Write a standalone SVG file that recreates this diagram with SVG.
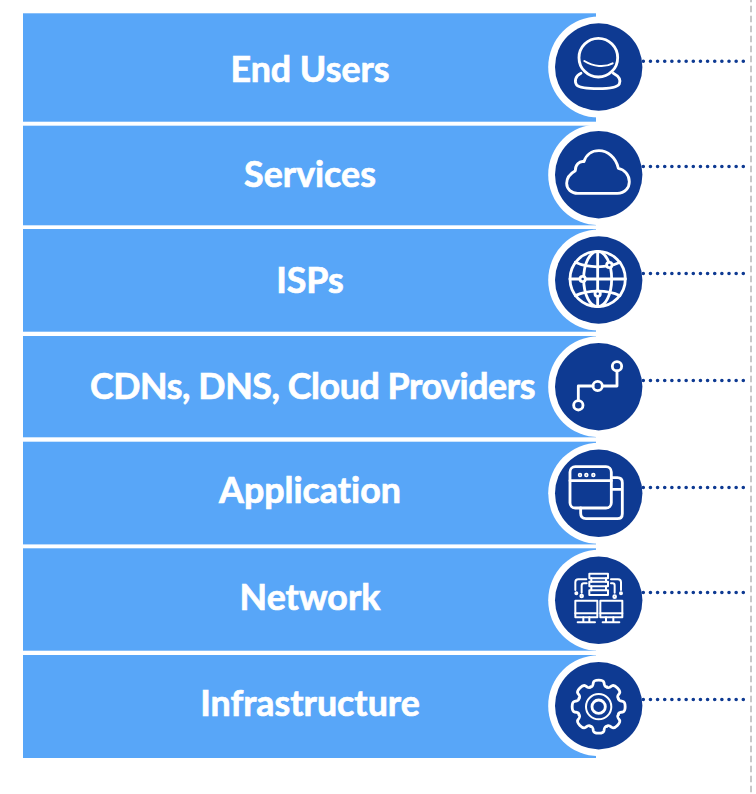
<svg xmlns="http://www.w3.org/2000/svg" width="756" height="794" viewBox="0 0 756 794">
<style>
.bar{fill:#58a6f8}
.halo{fill:#fff}
.disc{fill:#0e3a92}
.label{font-family:"Lato","Liberation Sans",sans-serif;font-weight:700;font-size:35.800px;fill:#fff;stroke:#fff;stroke-width:.7px;text-anchor:middle;font-variant-ligatures:none}
.tight{letter-spacing:-.42px}
.ic{fill:none;stroke:#fff;stroke-width:8.500;stroke-linecap:round;stroke-linejoin:round}
.th{stroke-width:6}
.nd{fill:#0e3a92}
.dot{fill:none;stroke:#0e3a92;stroke-width:3.600;stroke-linecap:round;stroke-dasharray:0 7.143}
.guide{fill:none;stroke:#c8c8c8;stroke-width:2;stroke-dasharray:6.500 3.500;stroke-dashoffset:4.300}
</style>
<defs>
<path id="tooth" d="M-24.5 -59C-18 -59 -17 -63 -16 -72C-14 -82 14 -82 16 -72C17 -63 18 -59 24.5 -59"/>
</defs>
<rect width="756" height="794" fill="#fff"/>
<g id="node-end-users">
<rect class="bar" x="23" y="13.300" width="573" height="108.400"/>
<circle class="halo" cx="598.700" cy="67" r="50.500"/>
<circle class="disc" cx="598.700" cy="67" r="43.700"/>
<g class="ic" transform="translate(530 0) scale(.3333)">
<circle cx="205" cy="173" r="58"/>
<path class="th" d="M163 183C190 200 225 203 248 190"/>
<path d="M153 220C135 228 133 245 140 255C150 265 190 266 205 266C225 266 260 265 268 252C273 240 265 228 250 220"/>
</g>
<text class="label" x="310" y="81.500">End Users</text>
</g>
<g id="node-services">
<rect class="bar" x="23" y="125.700" width="573" height="99.600"/>
<circle class="halo" cx="598.700" cy="174.700" r="50.500"/>
<circle class="disc" cx="598.700" cy="174.700" r="43.700"/>
<g class="ic" transform="translate(530 0) scale(.3333)">
<path d="M143 580H262C285 580 298 563 298 545C298 525 283 508 265 505C258 472 232 452 207 452C185 452 168 465 162 485C148 482 135 495 136 512C118 522 110 535 110 550C110 568 125 580 143 580Z"/>
</g>
<text class="label" x="310" y="187">Services</text>
</g>
<g id="node-isps">
<rect class="bar" x="23" y="229" width="573" height="102.700"/>
<circle class="halo" cx="598.700" cy="280" r="50.500"/>
<circle class="disc" cx="598.700" cy="280" r="43.700"/>
<g class="ic" transform="translate(530 225) scale(.3333)">
<circle cx="203" cy="162" r="83"/>
<ellipse cx="203" cy="162" rx="42" ry="83"/>
<path d="M203 79V245M120 162H286"/>
<path d="M136 112C175 130 232 130 270 112M136 212C175 194 232 194 270 212"/>
<circle class="nd" cx="238" cy="120" r="8"/>
<circle class="nd" cx="158" cy="162" r="8"/>
<circle class="nd" cx="203" cy="206" r="8"/>
</g>
<text class="label" x="310" y="292.500">ISPs</text>
</g>
<g id="node-cdns">
<rect class="bar" x="23" y="336" width="573" height="101.300"/>
<circle class="halo" cx="598.700" cy="386.700" r="50.500"/>
<circle class="disc" cx="598.700" cy="386.700" r="43.700"/>
<g class="ic" transform="translate(530 225) scale(.3333)">
<circle cx="261" cy="424" r="14"/>
<circle cx="203" cy="483" r="14"/>
<circle cx="145" cy="541" r="14"/>
<path d="M261 438V483H217M189 483H145V527"/>
</g>
<text class="label tight" x="312.500" y="399">CDNs, DNS, Cloud Providers</text>
</g>
<g id="node-application">
<rect class="bar" x="23" y="441.700" width="573" height="102.700"/>
<circle class="halo" cx="598.700" cy="493.300" r="50.500"/>
<circle class="disc" cx="598.700" cy="493.300" r="43.700"/>
<g class="ic" transform="translate(530 440) scale(.3333)">
<rect x="120" y="80" width="124" height="124" rx="16"/>
<path d="M120 122H244"/>
<path d="M244 113H262Q277 113 277 128V221Q277 236 262 236H168Q152 236 152 220V204M244 148H277"/>
<circle cx="150" cy="105" r="2.500"/><circle cx="169" cy="105" r="2.500"/><circle cx="190" cy="105" r="2.500"/>
</g>
<text class="label" x="310" y="503">Application</text>
</g>
<g id="node-network">
<rect class="bar" x="23" y="548.300" width="573" height="102.400"/>
<circle class="halo" cx="598.700" cy="600.300" r="50.500"/>
<circle class="disc" cx="598.700" cy="600.300" r="43.700"/>
<g class="ic th" transform="translate(530 440) scale(.3333)">
<rect x="178" y="401" width="56" height="14"/>
<rect x="178" y="425" width="56" height="14"/>
<rect x="178" y="451" width="56" height="14"/>
<path d="M184 415V425M228 415V425M184 439V451M228 439V451"/>
<path d="M169 418H145Q136 418 136 427V450M170 430H162Q155 430 155 437V458M243 418H264Q273 418 273 427V450M243 430H248Q254 430 254 437V458"/>
<circle cx="139" cy="460" r="3"/><circle cx="155" cy="468" r="4"/><circle cx="273" cy="460" r="3"/><circle cx="254" cy="470" r="4"/>
<rect x="136" y="482" width="66" height="50"/><rect x="211" y="482" width="66" height="50"/>
<path d="M136 520H202M211 520H277M160 532V546M178 532V546M228 532V546M250 532V546M143 547H195M218 547H268"/>
</g>
<text class="label" x="310" y="610">Network</text>
</g>
<g id="node-infrastructure">
<rect class="bar" x="23" y="655" width="573" height="103"/>
<circle class="halo" cx="598.700" cy="705.700" r="50.500"/>
<circle class="disc" cx="598.700" cy="705.700" r="43.700"/>
<g class="ic" transform="translate(530 640) scale(.3333)">
<g transform="translate(206 200)">
<use href="#tooth"/><use href="#tooth" transform="rotate(45)"/><use href="#tooth" transform="rotate(90)"/><use href="#tooth" transform="rotate(135)"/><use href="#tooth" transform="rotate(180)"/><use href="#tooth" transform="rotate(225)"/><use href="#tooth" transform="rotate(270)"/><use href="#tooth" transform="rotate(315)"/>
<circle class="th" r="38"/>
<circle r="20"/>
</g>
</g>
<text class="label" x="310" y="716">Infrastructure</text>
</g>
<g id="connectors">
<path class="guide" d="M751 0V794"/>
<path class="dot" d="M643.300 61.300H744.500"/>
<path class="dot" d="M643.300 166.500H744.500"/>
<path class="dot" d="M643.300 273.500H744.500"/>
<path class="dot" d="M643.300 380.500H744.500"/>
<path class="dot" d="M643.300 487.500H744.500"/>
<path class="dot" d="M643.300 592.500H744.500"/>
<path class="dot" d="M643.300 699.500H744.500"/>
</g>
</svg>
